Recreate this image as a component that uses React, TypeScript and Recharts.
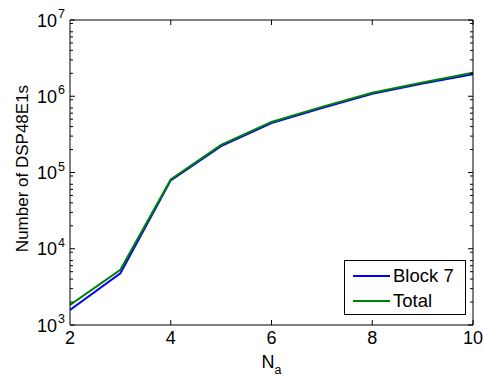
import React from 'react';
import { LineChart, Line, XAxis, YAxis, Legend, Label } from 'recharts';

const naValues = [2, 3, 4, 5, 6, 7, 8, 9, 10];
const block7Values = [1570, 4770, 79000, 222000, 445000, 700000, 1080000, 1470000, 1950000];
const totalValues = [1830, 5290, 81000, 230000, 460000, 725000, 1110000, 1510000, 2030000];
const xTicks = [2, 4, 6, 8, 10];
const yMajorTicks = [1000, 10000, 100000, 1000000, 10000000];
const yMinorTicks = [
  2000, 3000, 4000, 5000, 6000, 7000, 8000, 9000,
  20000, 30000, 40000, 50000, 60000, 70000, 80000, 90000,
  200000, 300000, 400000, 500000, 600000, 700000, 800000, 900000,
  2000000, 3000000, 4000000, 5000000, 6000000, 7000000, 8000000, 9000000,
];
const seriesNames = ['Block 7', 'Total'];
const seriesColors = ['#0000ff', '#008000'];

const data = naValues.map((na, i) => ({ na, block7: block7Values[i], total: totalValues[i] }));

const FONT = '"Liberation Sans", Arial, Helvetica, sans-serif';
const Y_DOMAIN: [number, number] = [1000, 10000000];
const X_DOMAIN: [number, number] = [2, 10];

const PowerTick = (props: any) => {
  const { x, y, payload } = props;
  const exp = Math.round(Math.log10(payload.value));
  return (
    <text x={x} y={y} textAnchor="end" fontFamily={FONT} fill="#000">
      <tspan x={x - 9} dy={6.5} fontSize={18} textAnchor="end">10</tspan>
      <tspan x={x - 1} dy={-8.5} fontSize={12.5} textAnchor="end">{exp}</tspan>
    </text>
  );
};

const NoTick = () => <g />;
const blankFormatter = () => '';

const LegendBox = () => (
  <div
    style={{
      width: 122,
      height: 55,
      boxSizing: 'border-box',
      border: '1px solid #000',
      background: '#fff',
      fontFamily: FONT,
      fontSize: 18.5,
      color: '#000',
      paddingTop: 2,
    }}
  >
    {seriesNames.map((name, i) => (
      <div key={name} style={{ display: 'flex', alignItems: 'center', height: 25 }}>
        <svg width={45} height={10} style={{ flex: 'none' }}>
          <line x1={8} x2={45} y1={5} y2={5} stroke={seriesColors[i]} strokeWidth={2} />
        </svg>
        <span style={{ marginLeft: 3, lineHeight: '25px' }}>{name}</span>
      </div>
    ))}
  </div>
);

const tickAxisCommon = {
  type: 'number' as const,
  allowDataOverflow: true,
  mirror: true,
  tick: <NoTick />,
  tickFormatter: blankFormatter,
  tickLine: { stroke: '#000', strokeWidth: 1 },
};

export default function App() {
  return (
    <div style={{ position: 'absolute', left: 0, top: 0, width: 483, height: 381, background: '#fff' }}>
      <LineChart
        width={483}
        height={381}
        data={data}
        margin={{ top: 20, right: 10, left: 0, bottom: 26 }}
        style={{ fontFamily: FONT }}
      >
        <XAxis
          xAxisId="b"
          dataKey="na"
          type="number"
          domain={X_DOMAIN}
          ticks={xTicks}
          allowDataOverflow
          height={30}
          tickLine={false}
          tickSize={0}
          tickMargin={6}
          axisLine={{ stroke: '#000', strokeWidth: 1 }}
          tick={{ fill: '#000', fontSize: 18, fontFamily: FONT }}
        >
          <Label
            content={(p: any) => {
              const vb = p.viewBox;
              const cx = vb.x + vb.width / 2;
              return (
                <text x={cx} y={368} textAnchor="middle" fontFamily={FONT} fill="#000">
                  <tspan fontSize={18}>N</tspan>
                  <tspan fontSize={12.5} dy={6}>a</tspan>
                </text>
              );
            }}
          />
        </XAxis>
        <XAxis {...tickAxisCommon} xAxisId="bt" domain={X_DOMAIN} ticks={xTicks} height={0.01} tickSize={5} axisLine={false} />
        <XAxis
          {...tickAxisCommon}
          xAxisId="t"
          orientation="top"
          domain={X_DOMAIN}
          ticks={xTicks}
          height={0.01}
          tickSize={5}
          axisLine={{ stroke: '#000' }}
        />
        <YAxis
          yAxisId="l"
          type="number"
          scale="log"
          domain={Y_DOMAIN}
          ticks={yMajorTicks}
          allowDataOverflow
          width={70}
          tickLine={false}
          tickSize={0}
          tickMargin={4}
          axisLine={{ stroke: '#000' }}
          tick={<PowerTick />}
        >
          <Label
            content={(p: any) => {
              const vb = p.viewBox;
              const cy = vb.y + vb.height / 2 - 4;
              return (
                <text
                  x={22}
                  y={cy}
                  transform={`rotate(-90, 22, ${cy})`}
                  textAnchor="middle"
                  dominantBaseline="central"
                  fontFamily={FONT}
                  fontSize={17}
                  fill="#000"
                >
                  Number of DSP48E1s
                </text>
              );
            }}
          />
        </YAxis>
        <YAxis {...tickAxisCommon} yAxisId="lM" scale="log" domain={Y_DOMAIN} ticks={yMajorTicks} width={0.01} tickSize={5} axisLine={false} />
        <YAxis {...tickAxisCommon} yAxisId="lm" scale="log" domain={Y_DOMAIN} ticks={yMinorTicks} width={0.01} tickSize={3} axisLine={false} />
        <YAxis
          {...tickAxisCommon}
          yAxisId="r"
          orientation="right"
          scale="log"
          domain={Y_DOMAIN}
          ticks={yMajorTicks}
          width={0.01}
          tickSize={5}
          axisLine={{ stroke: '#000' }}
        />
        <YAxis {...tickAxisCommon} yAxisId="rm" orientation="right" scale="log" domain={Y_DOMAIN} ticks={yMinorTicks} width={0.01} tickSize={3} axisLine={false} />
        <Line
          xAxisId="b"
          yAxisId="l"
          dataKey="block7"
          name={seriesNames[0]}
          stroke={seriesColors[0]}
          strokeWidth={2}
          dot={false}
          type="linear"
          isAnimationActive={false}
        />
        <Line
          xAxisId="b"
          yAxisId="l"
          dataKey="total"
          name={seriesNames[1]}
          stroke={seriesColors[1]}
          strokeWidth={2}
          dot={false}
          type="linear"
          isAnimationActive={false}
        />
        <Legend
          layout="vertical"
          align="center"
          verticalAlign="middle"
          content={<LegendBox />}
          wrapperStyle={{ left: 344, top: 260, width: 122, height: 55 }}
        />
      </LineChart>
    </div>
  );
}
